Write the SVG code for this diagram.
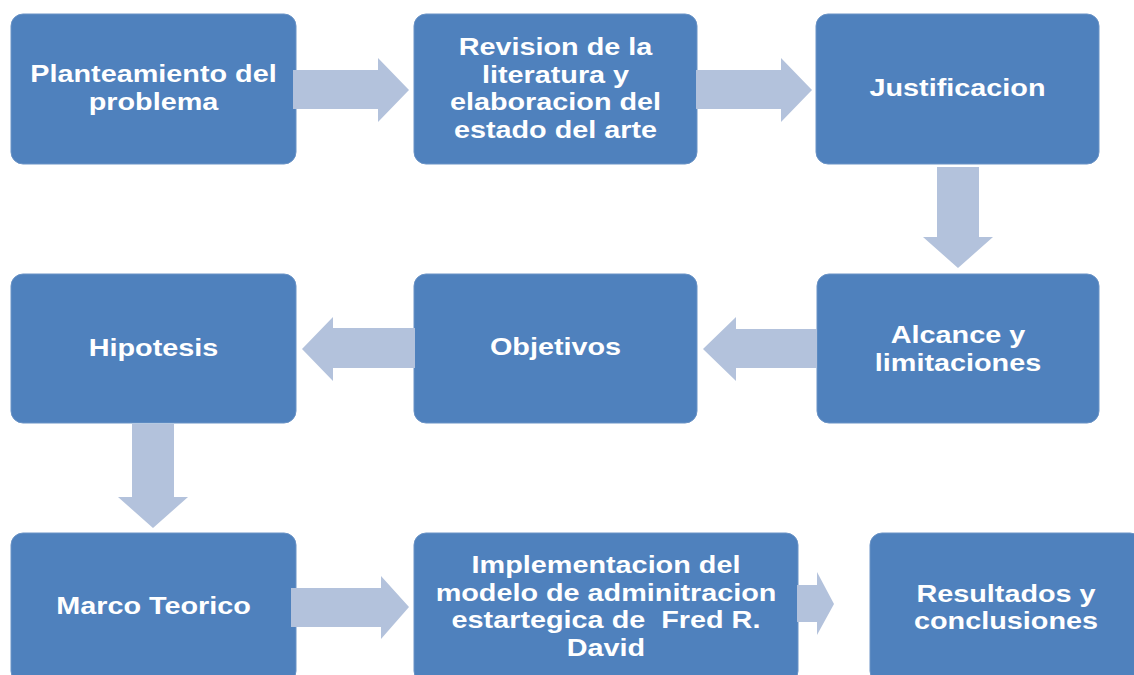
<svg xmlns="http://www.w3.org/2000/svg" width="1134" height="675" viewBox="0 0 1134 675">
<style>
.box{fill:#4F81BD;stroke:#6A93C6;stroke-width:1}
.arr{fill:#B3C2DC}
.t{font-family:"Liberation Sans",Arial,sans-serif;font-weight:bold;font-size:24px;fill:#FFFFFF;text-anchor:middle}
</style>
<rect width="1134" height="675" fill="#FFFFFF"/>
<g id="n1"><rect class="box" x="11" y="14" width="285" height="150" rx="12"/>
<g transform="translate(153.5,0) scale(1.2,1)"><text class="t" x="0" y="82">Planteamiento del</text><text class="t" x="0" y="110">problema</text></g></g>
<g id="n2"><rect class="box" x="414" y="14" width="283" height="150" rx="12"/>
<g transform="translate(555.5,0) scale(1.2,1)"><text class="t" x="0" y="55">Revision de la</text><text class="t" x="0" y="83">literatura y</text><text class="t" x="0" y="110">elaboracion del</text><text class="t" x="0" y="138">estado del arte</text></g></g>
<g id="n3"><rect class="box" x="816" y="14" width="283" height="150" rx="12"/>
<g transform="translate(957.5,0) scale(1.2,1)"><text class="t" x="0" y="96">Justificacion</text></g></g>
<g id="n4"><rect class="box" x="817" y="274" width="282" height="149" rx="12"/>
<g transform="translate(958,0) scale(1.2,1)"><text class="t" x="0" y="343">Alcance y</text><text class="t" x="0" y="371">limitaciones</text></g></g>
<g id="n5"><rect class="box" x="414" y="274" width="283" height="149" rx="12"/>
<g transform="translate(555.5,0) scale(1.2,1)"><text class="t" x="0" y="355">Objetivos</text></g></g>
<g id="n6"><rect class="box" x="11" y="274" width="285" height="149" rx="12"/>
<g transform="translate(153.5,0) scale(1.2,1)"><text class="t" x="0" y="356">Hipotesis</text></g></g>
<g id="n7"><rect class="box" x="11" y="533" width="285" height="150" rx="12"/>
<g transform="translate(153.5,0) scale(1.2,1)"><text class="t" x="0" y="614">Marco Teorico</text></g></g>
<g id="n8"><rect class="box" x="414" y="533" width="384" height="150" rx="12"/>
<g transform="translate(606,0) scale(1.2,1)"><text class="t" x="0" y="573">Implementacion del</text><text class="t" x="0" y="601">modelo de adminitracion</text><text class="t" x="0" y="628" xml:space="preserve">estartegica de  Fred R.</text><text class="t" x="0" y="656">David</text></g></g>
<g id="n9"><rect class="box" x="870" y="533" width="272" height="150" rx="12"/>
<g transform="translate(1006,0) scale(1.2,1)"><text class="t" x="0" y="602">Resultados y</text><text class="t" x="0" y="629">conclusiones</text></g></g>
<g id="connectors">
<path class="arr" d="M293,70 H378 V58 L409,90 L378,122 V109 H293 Z"/>
<path class="arr" d="M696,70 H781 V58 L812,90 L781,122 V109 H696 Z"/>
<path class="arr" d="M937,167 H979 V237 H993 L958,268 L923,237 H937 Z"/>
<path class="arr" d="M817,329 H736 V317 L703,349 L736,381 V368 H817 Z"/>
<path class="arr" d="M415,328 H333 V317 L302,349 L333,381 V368 H415 Z"/>
<path class="arr" d="M132,424 H174 V497 H188 L153,528 L118,497 H132 Z"/>
<path class="arr" d="M291,588 H381 V576 L409,607 L381,639 V627 H291 Z"/>
<path class="arr" d="M797,585 H817 V572 L834,604 L817,635 V622 H797 Z"/>
</g>
</svg>
